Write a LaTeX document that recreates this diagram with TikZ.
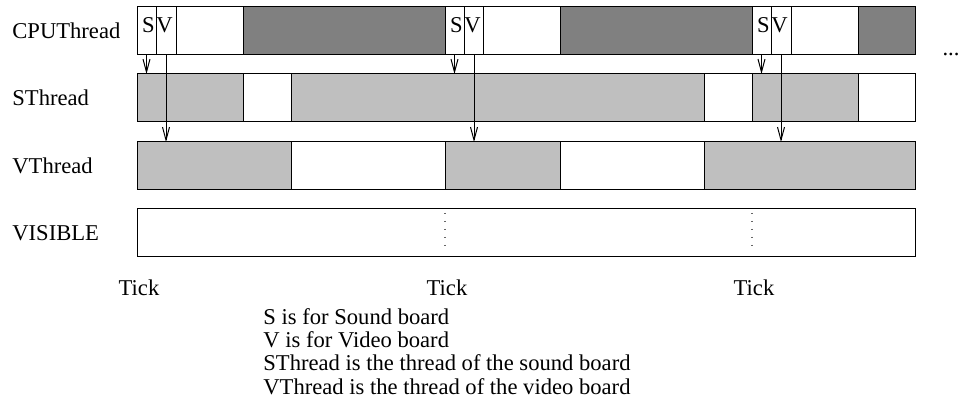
\documentclass[tikz,border=0pt]{standalone}
\usepackage{fontspec}
\setmainfont{Liberation Serif}
\usetikzlibrary{arrows.meta}

\begin{document}
\begin{tikzpicture}[x=0.5pt,y=-0.5pt,
    font=\fontsize{11.3}{11.5}\selectfont,
    slot/.style={draw=black,line width=0.5pt},
    busy/.style={slot,fill=gray},
    work/.style={slot,fill=lightgray},
    idle/.style={slot,fill=white},
    sig/.style={line width=0.5pt,-{Straight Barb[length=6.5pt,width=3.5pt]}},
    tickline/.style={black!60,line width=0.6pt,dash pattern=on 0.6pt off 3.4pt}]
  \useasboundingbox (0,0) rectangle (960,417);

  % row names
  \foreach \y/\name/\txt in {31/cpu/CPUThread,98/snd/SThread,166/vid/VThread,233/vis/VISIBLE}
    \node[anchor=west,inner sep=0pt] (lbl-\name) at (12,\y) {\txt};

  % CPUThread: S and V calls, free time, other work
  \foreach \a/\b/\k in {137/156/idle,156/176/idle,176/243/idle,243/445/busy,
                        445/464/idle,464/483/idle,483/560/idle,560/752/busy,
                        752/771/idle,771/791/idle,791/858/idle,858/915/busy}
    \draw[\k] (\a,7) rectangle (\b,55);
  % SThread
  \foreach \a/\b/\k in {137/243/work,243/291/idle,291/704/work,704/752/idle,752/858/work,858/915/idle}
    \draw[\k] (\a,74) rectangle (\b,122);
  % VThread
  \foreach \a/\b/\k in {137/291/work,291/445/idle,445/560/work,560/704/idle,704/915/work}
    \draw[\k] (\a,142) rectangle (\b,190);
  % VISIBLE
  \draw[idle] (137,209) rectangle (915,257);
  \foreach \x in {445,752}
    \draw[tickline] (\x,213) -- (\x,252);

  \node[anchor=base,inner sep=0pt] (more) at (951,56) {...};

  \coordinate (srow) at (0,74);
  \coordinate (vrow) at (0,142);
  \foreach \x/\i in {137/1,445/2,752/3} {
    \node[inner sep=0pt] (s-\i) at (\x+11.5,25) {S};
    \node[inner sep=0pt] (v-\i) at (\x+27.5,25) {V};
    \coordinate (sout-\i) at (\x+9.5,55);
    \coordinate (vout-\i) at (\x+29,55);
    \draw[sig] (sout-\i) -- (sout-\i |- srow);
    \draw[sig] (vout-\i) -- (vout-\i |- vrow);
    \node[anchor=base,inner sep=0pt] (tick-\i) at (\x+2,296) {Tick};
  }

  % legend
  \foreach \y/\i/\txt in {325/1/S is for Sound board,348/2/V is for Video board,
                          371/3/SThread is the thread of the sound board,
                          394/4/VThread is the thread of the video board}
    \node[anchor=base west,inner sep=0pt] (leg-\i) at (263,\y) {\txt};
\end{tikzpicture}
\end{document}
